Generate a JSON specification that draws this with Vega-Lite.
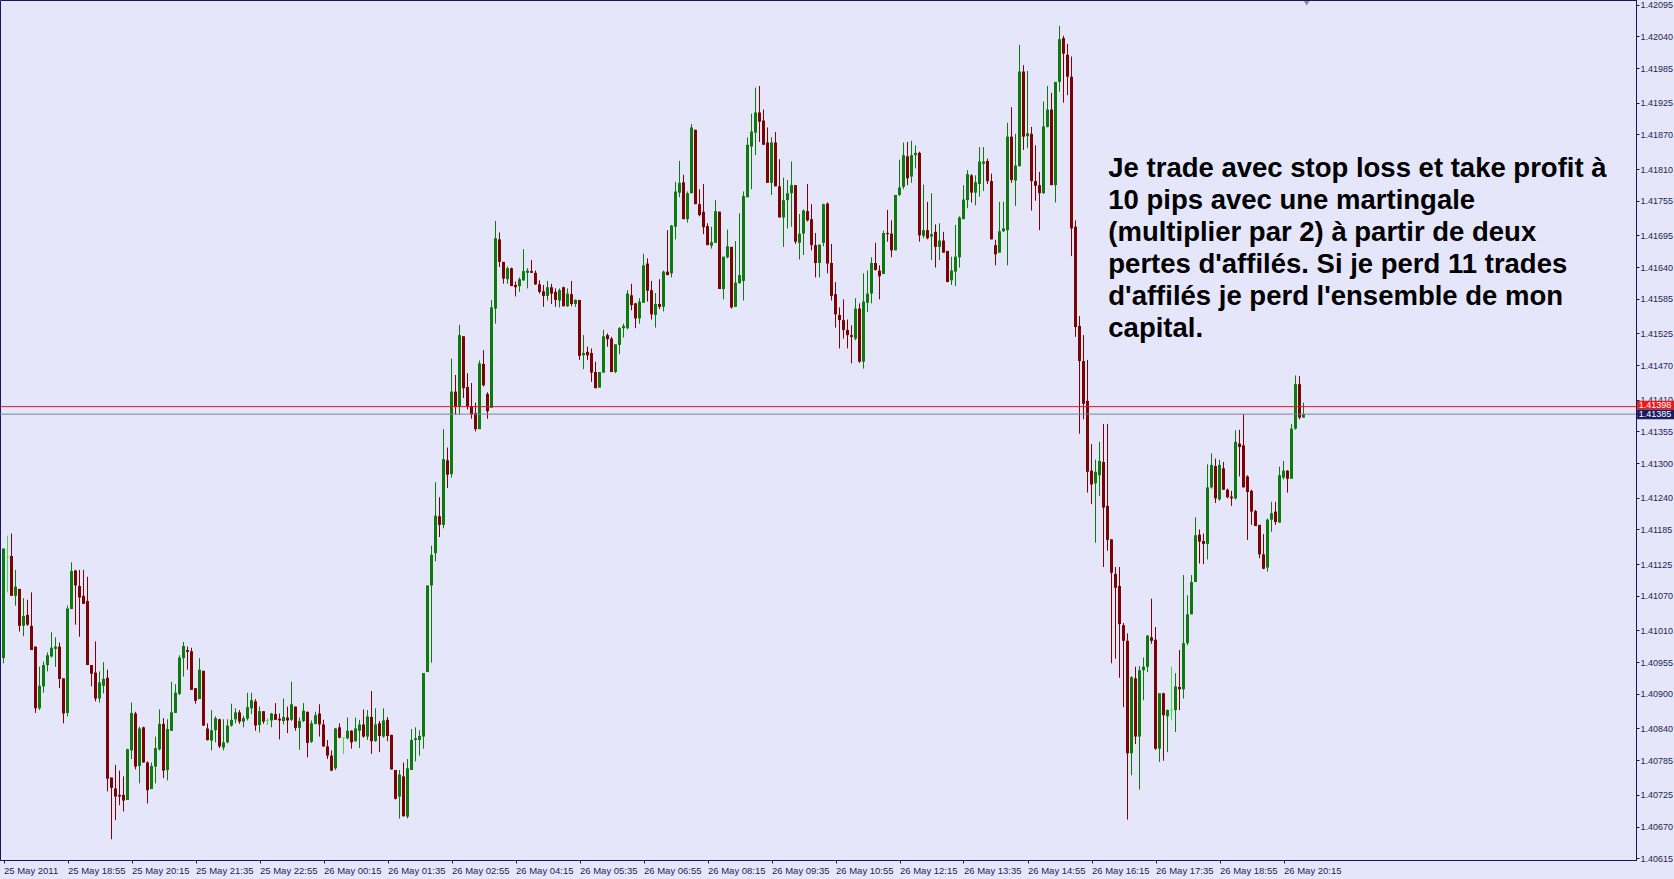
{
"$schema":"https://vega.github.io/schema/vega-lite/v6.json",
"width":1636,"height":860,
"autosize":{"type":"none"},
"padding":{"left":0,"top":0,"right":38,"bottom":19},
"background":"#e6e6fa",
"config":{"view":{"stroke":"#16165a","strokeWidth":1,"fill":"#e6e6fa"},
"scale":{"continuousPadding":0},
"axis":{"domainColor":"#16165a","tickColor":"#16165a","labelColor":"#1e1e50","labelFont":"Liberation Sans","labelFontSize":9.5,"grid":false,"tickSize":3,"labelOverlap":false,"labelSeparation":0,"labelBound":false,"labelFlush":false},
"axisY":{"labelOverlap":false,"labelFontSize":9,"labelPadding":1},
"axisQuantitative":{"labelOverlap":false},
"axisRight":{"labelOverlap":false}},
"data":{"values":[
{"t":"2011-05-25 17:35","o":1.40962,"h":1.41152,"l":1.40953,"c":1.41152},
{"t":"2011-05-25 17:40","o":1.41137,"h":1.41174,"l":1.41076,"c":1.41137},
{"t":"2011-05-25 17:45","o":1.41139,"h":1.41178,"l":1.41070,"c":1.41070},
{"t":"2011-05-25 17:50","o":1.41070,"h":1.41115,"l":1.41053,"c":1.41086},
{"t":"2011-05-25 17:55","o":1.41082,"h":1.41082,"l":1.41008,"c":1.41018},
{"t":"2011-05-25 18:00","o":1.41018,"h":1.41066,"l":1.41000,"c":1.41035},
{"t":"2011-05-25 18:05","o":1.41037,"h":1.41063,"l":1.41018,"c":1.41020},
{"t":"2011-05-25 18:10","o":1.41018,"h":1.41076,"l":1.40976,"c":1.40976},
{"t":"2011-05-25 18:15","o":1.40982,"h":1.40982,"l":1.40867,"c":1.40875},
{"t":"2011-05-25 18:20","o":1.40875,"h":1.40947,"l":1.40872,"c":1.40914},
{"t":"2011-05-25 18:25","o":1.40913,"h":1.40956,"l":1.40902,"c":1.40950},
{"t":"2011-05-25 18:30","o":1.40950,"h":1.40972,"l":1.40939,"c":1.40967},
{"t":"2011-05-25 18:35","o":1.40965,"h":1.41007,"l":1.40963,"c":1.40980},
{"t":"2011-05-25 18:40","o":1.40978,"h":1.40998,"l":1.40947,"c":1.40982},
{"t":"2011-05-25 18:45","o":1.40982,"h":1.40989,"l":1.40910,"c":1.40926},
{"t":"2011-05-25 18:50","o":1.40927,"h":1.40927,"l":1.40849,"c":1.40866},
{"t":"2011-05-25 18:55","o":1.40867,"h":1.41053,"l":1.40861,"c":1.41048},
{"t":"2011-05-25 19:00","o":1.41047,"h":1.41128,"l":1.41047,"c":1.41113},
{"t":"2011-05-25 19:05","o":1.41114,"h":1.41115,"l":1.41020,"c":1.41088},
{"t":"2011-05-25 19:10","o":1.41087,"h":1.41115,"l":1.40999,"c":1.41067},
{"t":"2011-05-25 19:15","o":1.41070,"h":1.41115,"l":1.41056,"c":1.41056},
{"t":"2011-05-25 19:20","o":1.41061,"h":1.41103,"l":1.40950,"c":1.40950},
{"t":"2011-05-25 19:25","o":1.40950,"h":1.40950,"l":1.40913,"c":1.40935},
{"t":"2011-05-25 19:30","o":1.40937,"h":1.40991,"l":1.40887,"c":1.40892},
{"t":"2011-05-25 19:35","o":1.40892,"h":1.40939,"l":1.40885,"c":1.40920},
{"t":"2011-05-25 19:40","o":1.40914,"h":1.40955,"l":1.40901,"c":1.40926},
{"t":"2011-05-25 19:45","o":1.40928,"h":1.40942,"l":1.40731,"c":1.40753},
{"t":"2011-05-25 19:50","o":1.40755,"h":1.40755,"l":1.40648,"c":1.40737},
{"t":"2011-05-25 19:55","o":1.40736,"h":1.40777,"l":1.40681,"c":1.40722},
{"t":"2011-05-25 20:00","o":1.40725,"h":1.40767,"l":1.40707,"c":1.40722},
{"t":"2011-05-25 20:05","o":1.40725,"h":1.40757,"l":1.40696,"c":1.40715},
{"t":"2011-05-25 20:10","o":1.40716,"h":1.40805,"l":1.40716,"c":1.40804},
{"t":"2011-05-25 20:15","o":1.40802,"h":1.40885,"l":1.40787,"c":1.40867},
{"t":"2011-05-25 20:20","o":1.40866,"h":1.40869,"l":1.40769,"c":1.40774},
{"t":"2011-05-25 20:25","o":1.40775,"h":1.40843,"l":1.40745,"c":1.40840},
{"t":"2011-05-25 20:30","o":1.40842,"h":1.40843,"l":1.40781,"c":1.40781},
{"t":"2011-05-25 20:35","o":1.40781,"h":1.40783,"l":1.40710,"c":1.40733},
{"t":"2011-05-25 20:40","o":1.40735,"h":1.40781,"l":1.40735,"c":1.40775},
{"t":"2011-05-25 20:45","o":1.40774,"h":1.40826,"l":1.40745,"c":1.40806},
{"t":"2011-05-25 20:50","o":1.40804,"h":1.40873,"l":1.40802,"c":1.40848},
{"t":"2011-05-25 20:55","o":1.40848,"h":1.40858,"l":1.40754,"c":1.40767},
{"t":"2011-05-25 21:00","o":1.40768,"h":1.40856,"l":1.40750,"c":1.40839},
{"t":"2011-05-25 21:05","o":1.40836,"h":1.40921,"l":1.40836,"c":1.40868},
{"t":"2011-05-25 21:10","o":1.40867,"h":1.40917,"l":1.40867,"c":1.40902},
{"t":"2011-05-25 21:15","o":1.40900,"h":1.40967,"l":1.40898,"c":1.40963},
{"t":"2011-05-25 21:20","o":1.40962,"h":1.40990,"l":1.40930,"c":1.40983},
{"t":"2011-05-25 21:25","o":1.40976,"h":1.40982,"l":1.40942,"c":1.40973},
{"t":"2011-05-25 21:30","o":1.40974,"h":1.40980,"l":1.40907,"c":1.40907},
{"t":"2011-05-25 21:35","o":1.40910,"h":1.40910,"l":1.40883,"c":1.40888},
{"t":"2011-05-25 21:40","o":1.40891,"h":1.40962,"l":1.40891,"c":1.40942},
{"t":"2011-05-25 21:45","o":1.40940,"h":1.40940,"l":1.40845,"c":1.40845},
{"t":"2011-05-25 21:50","o":1.40840,"h":1.40849,"l":1.40819,"c":1.40820},
{"t":"2011-05-25 21:55","o":1.40819,"h":1.40872,"l":1.40802,"c":1.40837},
{"t":"2011-05-25 22:00","o":1.40837,"h":1.40861,"l":1.40816,"c":1.40858},
{"t":"2011-05-25 22:05","o":1.40856,"h":1.40857,"l":1.40806,"c":1.40809},
{"t":"2011-05-25 22:10","o":1.40807,"h":1.40856,"l":1.40802,"c":1.40816},
{"t":"2011-05-25 22:15","o":1.40816,"h":1.40856,"l":1.40814,"c":1.40845},
{"t":"2011-05-25 22:20","o":1.40845,"h":1.40883,"l":1.40843,"c":1.40855},
{"t":"2011-05-25 22:25","o":1.40856,"h":1.40875,"l":1.40849,"c":1.40868},
{"t":"2011-05-25 22:30","o":1.40868,"h":1.40872,"l":1.40848,"c":1.40852},
{"t":"2011-05-25 22:35","o":1.40852,"h":1.40862,"l":1.40842,"c":1.40858},
{"t":"2011-05-25 22:40","o":1.40857,"h":1.40902,"l":1.40854,"c":1.40877},
{"t":"2011-05-25 22:45","o":1.40875,"h":1.40902,"l":1.40865,"c":1.40889},
{"t":"2011-05-25 22:50","o":1.40887,"h":1.40891,"l":1.40836,"c":1.40845},
{"t":"2011-05-25 22:55","o":1.40846,"h":1.40878,"l":1.40833,"c":1.40870},
{"t":"2011-05-25 23:00","o":1.40870,"h":1.40870,"l":1.40848,"c":1.40852},
{"t":"2011-05-25 23:05","o":1.40854,"h":1.40858,"l":1.40846,"c":1.40854},
{"t":"2011-05-25 23:10","o":1.40854,"h":1.40867,"l":1.40842,"c":1.40866},
{"t":"2011-05-25 23:15","o":1.40865,"h":1.40884,"l":1.40855,"c":1.40855},
{"t":"2011-05-25 23:20","o":1.40857,"h":1.40866,"l":1.40821,"c":1.40854},
{"t":"2011-05-25 23:25","o":1.40853,"h":1.40892,"l":1.40847,"c":1.40860},
{"t":"2011-05-25 23:30","o":1.40859,"h":1.40878,"l":1.40832,"c":1.40854},
{"t":"2011-05-25 23:35","o":1.40855,"h":1.40921,"l":1.40853,"c":1.40882},
{"t":"2011-05-25 23:40","o":1.40878,"h":1.40878,"l":1.40836,"c":1.40841},
{"t":"2011-05-25 23:45","o":1.40841,"h":1.40859,"l":1.40803,"c":1.40853},
{"t":"2011-05-25 23:50","o":1.40853,"h":1.40884,"l":1.40851,"c":1.40871},
{"t":"2011-05-25 23:55","o":1.40869,"h":1.40869,"l":1.40790,"c":1.40815},
{"t":"2011-05-26 00:00","o":1.40817,"h":1.40854,"l":1.40815,"c":1.40849},
{"t":"2011-05-26 00:05","o":1.40848,"h":1.40869,"l":1.40847,"c":1.40863},
{"t":"2011-05-26 00:10","o":1.40866,"h":1.40882,"l":1.40826,"c":1.40847},
{"t":"2011-05-26 00:15","o":1.40847,"h":1.40855,"l":1.40808,"c":1.40809},
{"t":"2011-05-26 00:20","o":1.40809,"h":1.40820,"l":1.40787,"c":1.40793},
{"t":"2011-05-26 00:25","o":1.40793,"h":1.40802,"l":1.40766,"c":1.40767},
{"t":"2011-05-26 00:30","o":1.40771,"h":1.40841,"l":1.40768,"c":1.40840},
{"t":"2011-05-26 00:35","o":1.40842,"h":1.40849,"l":1.40823,"c":1.40824},
{"t":"2011-05-26 00:40","o":1.40824,"h":1.40824,"l":1.40796,"c":1.40824},
{"t":"2011-05-26 00:45","o":1.40823,"h":1.40859,"l":1.40821,"c":1.40836},
{"t":"2011-05-26 00:50","o":1.40836,"h":1.40837,"l":1.40805,"c":1.40816},
{"t":"2011-05-26 00:55","o":1.40818,"h":1.40859,"l":1.40817,"c":1.40840},
{"t":"2011-05-26 01:00","o":1.40836,"h":1.40855,"l":1.40806,"c":1.40847},
{"t":"2011-05-26 01:05","o":1.40847,"h":1.40873,"l":1.40824,"c":1.40826},
{"t":"2011-05-26 01:10","o":1.40826,"h":1.40872,"l":1.40820,"c":1.40861},
{"t":"2011-05-26 01:15","o":1.40860,"h":1.40905,"l":1.40796,"c":1.40818},
{"t":"2011-05-26 01:20","o":1.40818,"h":1.40875,"l":1.40817,"c":1.40847},
{"t":"2011-05-26 01:25","o":1.40849,"h":1.40853,"l":1.40799,"c":1.40827},
{"t":"2011-05-26 01:30","o":1.40826,"h":1.40875,"l":1.40824,"c":1.40854},
{"t":"2011-05-26 01:35","o":1.40855,"h":1.40860,"l":1.40818,"c":1.40827},
{"t":"2011-05-26 01:40","o":1.40829,"h":1.40829,"l":1.40769,"c":1.40769},
{"t":"2011-05-26 01:45","o":1.40768,"h":1.40768,"l":1.40717,"c":1.40718},
{"t":"2011-05-26 01:50","o":1.40722,"h":1.40768,"l":1.40684,"c":1.40760},
{"t":"2011-05-26 01:55","o":1.40757,"h":1.40781,"l":1.40687,"c":1.40688},
{"t":"2011-05-26 02:00","o":1.40687,"h":1.40787,"l":1.40684,"c":1.40771},
{"t":"2011-05-26 02:05","o":1.40768,"h":1.40839,"l":1.40768,"c":1.40820},
{"t":"2011-05-26 02:10","o":1.40820,"h":1.40842,"l":1.40783,"c":1.40823},
{"t":"2011-05-26 02:15","o":1.40820,"h":1.40837,"l":1.40793,"c":1.40827},
{"t":"2011-05-26 02:20","o":1.40826,"h":1.40936,"l":1.40805,"c":1.40936},
{"t":"2011-05-26 02:25","o":1.40938,"h":1.41088,"l":1.40938,"c":1.41088},
{"t":"2011-05-26 02:30","o":1.41088,"h":1.41157,"l":1.40954,"c":1.41141},
{"t":"2011-05-26 02:35","o":1.41144,"h":1.41267,"l":1.41130,"c":1.41209},
{"t":"2011-05-26 02:40","o":1.41208,"h":1.41241,"l":1.41172,"c":1.41193},
{"t":"2011-05-26 02:45","o":1.41193,"h":1.41359,"l":1.41187,"c":1.41307},
{"t":"2011-05-26 02:50","o":1.41305,"h":1.41327,"l":1.41257,"c":1.41280},
{"t":"2011-05-26 02:55","o":1.41281,"h":1.41481,"l":1.41275,"c":1.41424},
{"t":"2011-05-26 03:00","o":1.41424,"h":1.41453,"l":1.41384,"c":1.41398},
{"t":"2011-05-26 03:05","o":1.41398,"h":1.41540,"l":1.41384,"c":1.41522},
{"t":"2011-05-26 03:10","o":1.41520,"h":1.41520,"l":1.41413,"c":1.41430},
{"t":"2011-05-26 03:15","o":1.41432,"h":1.41456,"l":1.41393,"c":1.41398},
{"t":"2011-05-26 03:20","o":1.41399,"h":1.41439,"l":1.41377,"c":1.41384},
{"t":"2011-05-26 03:25","o":1.41387,"h":1.41405,"l":1.41355,"c":1.41359},
{"t":"2011-05-26 03:30","o":1.41359,"h":1.41478,"l":1.41359,"c":1.41473},
{"t":"2011-05-26 03:35","o":1.41472,"h":1.41496,"l":1.41433,"c":1.41435},
{"t":"2011-05-26 03:40","o":1.41420,"h":1.41423,"l":1.41377,"c":1.41390},
{"t":"2011-05-26 03:45","o":1.41396,"h":1.41583,"l":1.41396,"c":1.41570},
{"t":"2011-05-26 03:50","o":1.41568,"h":1.41720,"l":1.41542,"c":1.41690},
{"t":"2011-05-26 03:55","o":1.41688,"h":1.41700,"l":1.41640,"c":1.41649},
{"t":"2011-05-26 04:00","o":1.41649,"h":1.41649,"l":1.41611,"c":1.41620},
{"t":"2011-05-26 04:05","o":1.41619,"h":1.41641,"l":1.41611,"c":1.41638},
{"t":"2011-05-26 04:10","o":1.41638,"h":1.41639,"l":1.41607,"c":1.41607},
{"t":"2011-05-26 04:15","o":1.41609,"h":1.41615,"l":1.41589,"c":1.41605},
{"t":"2011-05-26 04:20","o":1.41607,"h":1.41622,"l":1.41597,"c":1.41619},
{"t":"2011-05-26 04:25","o":1.41617,"h":1.41671,"l":1.41616,"c":1.41633},
{"t":"2011-05-26 04:30","o":1.41630,"h":1.41638,"l":1.41603,"c":1.41634},
{"t":"2011-05-26 04:35","o":1.41633,"h":1.41652,"l":1.41630,"c":1.41630},
{"t":"2011-05-26 04:40","o":1.41630,"h":1.41634,"l":1.41609,"c":1.41610},
{"t":"2011-05-26 04:45","o":1.41610,"h":1.41617,"l":1.41594,"c":1.41597},
{"t":"2011-05-26 04:50","o":1.41598,"h":1.41609,"l":1.41571,"c":1.41590},
{"t":"2011-05-26 04:55","o":1.41590,"h":1.41616,"l":1.41582,"c":1.41605},
{"t":"2011-05-26 05:00","o":1.41605,"h":1.41611,"l":1.41576,"c":1.41594},
{"t":"2011-05-26 05:05","o":1.41597,"h":1.41603,"l":1.41571,"c":1.41583},
{"t":"2011-05-26 05:10","o":1.41582,"h":1.41603,"l":1.41570,"c":1.41600},
{"t":"2011-05-26 05:15","o":1.41605,"h":1.41606,"l":1.41572,"c":1.41572},
{"t":"2011-05-26 05:20","o":1.41572,"h":1.41603,"l":1.41571,"c":1.41594},
{"t":"2011-05-26 05:25","o":1.41593,"h":1.41616,"l":1.41572,"c":1.41576},
{"t":"2011-05-26 05:30","o":1.41576,"h":1.41584,"l":1.41571,"c":1.41583},
{"t":"2011-05-26 05:35","o":1.41583,"h":1.41583,"l":1.41479,"c":1.41486},
{"t":"2011-05-26 05:40","o":1.41487,"h":1.41522,"l":1.41463,"c":1.41491},
{"t":"2011-05-26 05:45","o":1.41493,"h":1.41502,"l":1.41479,"c":1.41487},
{"t":"2011-05-26 05:50","o":1.41491,"h":1.41499,"l":1.41441,"c":1.41457},
{"t":"2011-05-26 05:55","o":1.41458,"h":1.41476,"l":1.41430,"c":1.41430},
{"t":"2011-05-26 06:00","o":1.41431,"h":1.41458,"l":1.41431,"c":1.41458},
{"t":"2011-05-26 06:05","o":1.41457,"h":1.41531,"l":1.41457,"c":1.41520},
{"t":"2011-05-26 06:10","o":1.41522,"h":1.41525,"l":1.41502,"c":1.41515},
{"t":"2011-05-26 06:15","o":1.41516,"h":1.41519,"l":1.41458,"c":1.41458},
{"t":"2011-05-26 06:20","o":1.41458,"h":1.41506,"l":1.41456,"c":1.41506},
{"t":"2011-05-26 06:25","o":1.41505,"h":1.41536,"l":1.41489,"c":1.41534},
{"t":"2011-05-26 06:30","o":1.41534,"h":1.41542,"l":1.41518,"c":1.41538},
{"t":"2011-05-26 06:35","o":1.41534,"h":1.41600,"l":1.41532,"c":1.41594},
{"t":"2011-05-26 06:40","o":1.41591,"h":1.41611,"l":1.41565,"c":1.41574},
{"t":"2011-05-26 06:45","o":1.41577,"h":1.41578,"l":1.41534,"c":1.41551},
{"t":"2011-05-26 06:50","o":1.41551,"h":1.41586,"l":1.41542,"c":1.41580},
{"t":"2011-05-26 06:55","o":1.41578,"h":1.41663,"l":1.41578,"c":1.41643},
{"t":"2011-05-26 07:00","o":1.41646,"h":1.41655,"l":1.41580,"c":1.41599},
{"t":"2011-05-26 07:05","o":1.41600,"h":1.41616,"l":1.41549,"c":1.41558},
{"t":"2011-05-26 07:10","o":1.41557,"h":1.41595,"l":1.41535,"c":1.41576},
{"t":"2011-05-26 07:15","o":1.41576,"h":1.41619,"l":1.41567,"c":1.41571},
{"t":"2011-05-26 07:20","o":1.41571,"h":1.41634,"l":1.41563,"c":1.41632},
{"t":"2011-05-26 07:25","o":1.41632,"h":1.41704,"l":1.41626,"c":1.41626},
{"t":"2011-05-26 07:30","o":1.41629,"h":1.41713,"l":1.41622,"c":1.41712},
{"t":"2011-05-26 07:35","o":1.41710,"h":1.41788,"l":1.41688,"c":1.41771},
{"t":"2011-05-26 07:40","o":1.41769,"h":1.41824,"l":1.41761,"c":1.41786},
{"t":"2011-05-26 07:45","o":1.41787,"h":1.41800,"l":1.41723,"c":1.41723},
{"t":"2011-05-26 07:50","o":1.41723,"h":1.41771,"l":1.41717,"c":1.41768},
{"t":"2011-05-26 07:55","o":1.41768,"h":1.41888,"l":1.41768,"c":1.41882},
{"t":"2011-05-26 08:00","o":1.41878,"h":1.41878,"l":1.41749,"c":1.41749},
{"t":"2011-05-26 08:05","o":1.41749,"h":1.41775,"l":1.41728,"c":1.41730},
{"t":"2011-05-26 08:10","o":1.41736,"h":1.41784,"l":1.41697,"c":1.41709},
{"t":"2011-05-26 08:15","o":1.41711,"h":1.41716,"l":1.41678,"c":1.41678},
{"t":"2011-05-26 08:20","o":1.41677,"h":1.41710,"l":1.41672,"c":1.41683},
{"t":"2011-05-26 08:25","o":1.41682,"h":1.41756,"l":1.41682,"c":1.41737},
{"t":"2011-05-26 08:30","o":1.41736,"h":1.41736,"l":1.41602,"c":1.41602},
{"t":"2011-05-26 08:35","o":1.41602,"h":1.41658,"l":1.41584,"c":1.41658},
{"t":"2011-05-26 08:40","o":1.41657,"h":1.41705,"l":1.41655,"c":1.41676},
{"t":"2011-05-26 08:45","o":1.41675,"h":1.41675,"l":1.41568,"c":1.41570},
{"t":"2011-05-26 08:50","o":1.41571,"h":1.41685,"l":1.41571,"c":1.41613},
{"t":"2011-05-26 08:55","o":1.41612,"h":1.41733,"l":1.41611,"c":1.41626},
{"t":"2011-05-26 09:00","o":1.41616,"h":1.41771,"l":1.41582,"c":1.41763},
{"t":"2011-05-26 09:05","o":1.41761,"h":1.41865,"l":1.41761,"c":1.41852},
{"t":"2011-05-26 09:10","o":1.41849,"h":1.41906,"l":1.41775,"c":1.41875},
{"t":"2011-05-26 09:15","o":1.41873,"h":1.41951,"l":1.41834,"c":1.41908},
{"t":"2011-05-26 09:20","o":1.41908,"h":1.41954,"l":1.41857,"c":1.41892},
{"t":"2011-05-26 09:25","o":1.41894,"h":1.41913,"l":1.41852,"c":1.41852},
{"t":"2011-05-26 09:30","o":1.41856,"h":1.41882,"l":1.41786,"c":1.41786},
{"t":"2011-05-26 09:35","o":1.41786,"h":1.41865,"l":1.41765,"c":1.41856},
{"t":"2011-05-26 09:40","o":1.41856,"h":1.41874,"l":1.41780,"c":1.41780},
{"t":"2011-05-26 09:45","o":1.41780,"h":1.41827,"l":1.41726,"c":1.41726},
{"t":"2011-05-26 09:50","o":1.41726,"h":1.41795,"l":1.41675,"c":1.41756},
{"t":"2011-05-26 09:55","o":1.41756,"h":1.41791,"l":1.41707,"c":1.41768},
{"t":"2011-05-26 10:00","o":1.41768,"h":1.41823,"l":1.41710,"c":1.41782},
{"t":"2011-05-26 10:05","o":1.41782,"h":1.41782,"l":1.41680,"c":1.41684},
{"t":"2011-05-26 10:10","o":1.41682,"h":1.41732,"l":1.41653,"c":1.41698},
{"t":"2011-05-26 10:15","o":1.41698,"h":1.41740,"l":1.41661,"c":1.41738},
{"t":"2011-05-26 10:20","o":1.41737,"h":1.41784,"l":1.41719,"c":1.41721},
{"t":"2011-05-26 10:25","o":1.41723,"h":1.41749,"l":1.41669,"c":1.41678},
{"t":"2011-05-26 10:30","o":1.41678,"h":1.41699,"l":1.41622,"c":1.41647},
{"t":"2011-05-26 10:35","o":1.41647,"h":1.41679,"l":1.41622,"c":1.41679},
{"t":"2011-05-26 10:40","o":1.41682,"h":1.41750,"l":1.41676,"c":1.41749},
{"t":"2011-05-26 10:45","o":1.41750,"h":1.41752,"l":1.41629,"c":1.41646},
{"t":"2011-05-26 10:50","o":1.41647,"h":1.41680,"l":1.41582,"c":1.41590},
{"t":"2011-05-26 10:55","o":1.41593,"h":1.41614,"l":1.41535,"c":1.41558},
{"t":"2011-05-26 11:00","o":1.41557,"h":1.41570,"l":1.41499,"c":1.41548},
{"t":"2011-05-26 11:05","o":1.41548,"h":1.41584,"l":1.41516,"c":1.41531},
{"t":"2011-05-26 11:10","o":1.41531,"h":1.41549,"l":1.41499,"c":1.41522},
{"t":"2011-05-26 11:15","o":1.41522,"h":1.41539,"l":1.41473,"c":1.41519},
{"t":"2011-05-26 11:20","o":1.41516,"h":1.41586,"l":1.41513,"c":1.41568},
{"t":"2011-05-26 11:25","o":1.41568,"h":1.41577,"l":1.41474,"c":1.41476},
{"t":"2011-05-26 11:30","o":1.41476,"h":1.41629,"l":1.41464,"c":1.41580},
{"t":"2011-05-26 11:35","o":1.41578,"h":1.41634,"l":1.41562,"c":1.41594},
{"t":"2011-05-26 11:40","o":1.41594,"h":1.41657,"l":1.41577,"c":1.41647},
{"t":"2011-05-26 11:45","o":1.41647,"h":1.41682,"l":1.41634,"c":1.41635},
{"t":"2011-05-26 11:50","o":1.41634,"h":1.41643,"l":1.41584,"c":1.41624},
{"t":"2011-05-26 11:55","o":1.41628,"h":1.41703,"l":1.41628,"c":1.41699},
{"t":"2011-05-26 12:00","o":1.41699,"h":1.41739,"l":1.41684,"c":1.41697},
{"t":"2011-05-26 12:05","o":1.41698,"h":1.41721,"l":1.41657,"c":1.41669},
{"t":"2011-05-26 12:10","o":1.41669,"h":1.41765,"l":1.41669,"c":1.41765},
{"t":"2011-05-26 12:15","o":1.41765,"h":1.41826,"l":1.41763,"c":1.41778},
{"t":"2011-05-26 12:20","o":1.41779,"h":1.41856,"l":1.41775,"c":1.41834},
{"t":"2011-05-26 12:25","o":1.41832,"h":1.41857,"l":1.41782,"c":1.41794},
{"t":"2011-05-26 12:30","o":1.41797,"h":1.41859,"l":1.41786,"c":1.41834},
{"t":"2011-05-26 12:35","o":1.41834,"h":1.41851,"l":1.41811,"c":1.41838},
{"t":"2011-05-26 12:40","o":1.41838,"h":1.41840,"l":1.41684,"c":1.41695},
{"t":"2011-05-26 12:45","o":1.41694,"h":1.41783,"l":1.41690,"c":1.41704},
{"t":"2011-05-26 12:50","o":1.41704,"h":1.41753,"l":1.41688,"c":1.41690},
{"t":"2011-05-26 12:55","o":1.41693,"h":1.41768,"l":1.41652,"c":1.41697},
{"t":"2011-05-26 13:00","o":1.41701,"h":1.41714,"l":1.41639,"c":1.41675},
{"t":"2011-05-26 13:05","o":1.41675,"h":1.41716,"l":1.41652,"c":1.41686},
{"t":"2011-05-26 13:10","o":1.41686,"h":1.41701,"l":1.41665,"c":1.41665},
{"t":"2011-05-26 13:15","o":1.41668,"h":1.41668,"l":1.41614,"c":1.41614},
{"t":"2011-05-26 13:20","o":1.41617,"h":1.41658,"l":1.41609,"c":1.41634},
{"t":"2011-05-26 13:25","o":1.41632,"h":1.41713,"l":1.41607,"c":1.41658},
{"t":"2011-05-26 13:30","o":1.41657,"h":1.41728,"l":1.41639,"c":1.41726},
{"t":"2011-05-26 13:35","o":1.41723,"h":1.41782,"l":1.41723,"c":1.41757},
{"t":"2011-05-26 13:40","o":1.41756,"h":1.41808,"l":1.41742,"c":1.41801},
{"t":"2011-05-26 13:45","o":1.41799,"h":1.41801,"l":1.41752,"c":1.41769},
{"t":"2011-05-26 13:50","o":1.41769,"h":1.41799,"l":1.41747,"c":1.41787},
{"t":"2011-05-26 13:55","o":1.41784,"h":1.41848,"l":1.41762,"c":1.41823},
{"t":"2011-05-26 14:00","o":1.41819,"h":1.41848,"l":1.41772,"c":1.41823},
{"t":"2011-05-26 14:05","o":1.41824,"h":1.41828,"l":1.41784,"c":1.41789},
{"t":"2011-05-26 14:10","o":1.41789,"h":1.41802,"l":1.41688,"c":1.41688},
{"t":"2011-05-26 14:15","o":1.41678,"h":1.41687,"l":1.41643,"c":1.41662},
{"t":"2011-05-26 14:20","o":1.41665,"h":1.41753,"l":1.41665,"c":1.41702},
{"t":"2011-05-26 14:25","o":1.41702,"h":1.41753,"l":1.41701,"c":1.41707},
{"t":"2011-05-26 14:30","o":1.41704,"h":1.41890,"l":1.41643,"c":1.41866},
{"t":"2011-05-26 14:35","o":1.41866,"h":1.41917,"l":1.41786,"c":1.41791},
{"t":"2011-05-26 14:40","o":1.41790,"h":1.41871,"l":1.41746,"c":1.41816},
{"t":"2011-05-26 14:45","o":1.41815,"h":1.42025,"l":1.41814,"c":1.41979},
{"t":"2011-05-26 14:50","o":1.41979,"h":1.41990,"l":1.41843,"c":1.41866},
{"t":"2011-05-26 14:55","o":1.41867,"h":1.41980,"l":1.41846,"c":1.41872},
{"t":"2011-05-26 15:00","o":1.41871,"h":1.41883,"l":1.41738,"c":1.41789},
{"t":"2011-05-26 15:05","o":1.41789,"h":1.41851,"l":1.41755,"c":1.41781},
{"t":"2011-05-26 15:10","o":1.41782,"h":1.41805,"l":1.41704,"c":1.41768},
{"t":"2011-05-26 15:15","o":1.41768,"h":1.41927,"l":1.41767,"c":1.41884},
{"t":"2011-05-26 15:20","o":1.41883,"h":1.41954,"l":1.41882,"c":1.41913},
{"t":"2011-05-26 15:25","o":1.41913,"h":1.41942,"l":1.41782,"c":1.41782},
{"t":"2011-05-26 15:30","o":1.41782,"h":1.41961,"l":1.41752,"c":1.41961},
{"t":"2011-05-26 15:35","o":1.41961,"h":1.42058,"l":1.41944,"c":1.42035},
{"t":"2011-05-26 15:40","o":1.42037,"h":1.42041,"l":1.41925,"c":1.42010},
{"t":"2011-05-26 15:45","o":1.42008,"h":1.42027,"l":1.41938,"c":1.41970},
{"t":"2011-05-26 15:50","o":1.41970,"h":1.42005,"l":1.41659,"c":1.41707},
{"t":"2011-05-26 15:55","o":1.41710,"h":1.41721,"l":1.41519,"c":1.41536},
{"t":"2011-05-26 16:00","o":1.41538,"h":1.41555,"l":1.41351,"c":1.41477},
{"t":"2011-05-26 16:05","o":1.41477,"h":1.41522,"l":1.41376,"c":1.41403},
{"t":"2011-05-26 16:10","o":1.41408,"h":1.41479,"l":1.41249,"c":1.41285},
{"t":"2011-05-26 16:15","o":1.41287,"h":1.41333,"l":1.41229,"c":1.41263},
{"t":"2011-05-26 16:20","o":1.41265,"h":1.41306,"l":1.41162,"c":1.41285},
{"t":"2011-05-26 16:25","o":1.41279,"h":1.41337,"l":1.41243,"c":1.41304},
{"t":"2011-05-26 16:30","o":1.41302,"h":1.41368,"l":1.41120,"c":1.41223},
{"t":"2011-05-26 16:35","o":1.41226,"h":1.41368,"l":1.41148,"c":1.41167},
{"t":"2011-05-26 16:40","o":1.41168,"h":1.41168,"l":1.40953,"c":1.41110},
{"t":"2011-05-26 16:45","o":1.41108,"h":1.41120,"l":1.40961,"c":1.41084},
{"t":"2011-05-26 16:50","o":1.41087,"h":1.41120,"l":1.40928,"c":1.41021},
{"t":"2011-05-26 16:55","o":1.41019,"h":1.41023,"l":1.40877,"c":1.40992},
{"t":"2011-05-26 17:00","o":1.40992,"h":1.41005,"l":1.40682,"c":1.40797},
{"t":"2011-05-26 17:05","o":1.40797,"h":1.40931,"l":1.40759,"c":1.40929},
{"t":"2011-05-26 17:10","o":1.40927,"h":1.40947,"l":1.40813,"c":1.40826},
{"t":"2011-05-26 17:15","o":1.40826,"h":1.40948,"l":1.40734,"c":1.40941},
{"t":"2011-05-26 17:20","o":1.40941,"h":1.40963,"l":1.40889,"c":1.40947},
{"t":"2011-05-26 17:25","o":1.40947,"h":1.41002,"l":1.40938,"c":1.41001},
{"t":"2011-05-26 17:30","o":1.40998,"h":1.41065,"l":1.40987,"c":1.40992},
{"t":"2011-05-26 17:35","o":1.40994,"h":1.41016,"l":1.40803,"c":1.40805},
{"t":"2011-05-26 17:40","o":1.40805,"h":1.40901,"l":1.40782,"c":1.40901},
{"t":"2011-05-26 17:45","o":1.40901,"h":1.40902,"l":1.40784,"c":1.40863},
{"t":"2011-05-26 17:50","o":1.40861,"h":1.40873,"l":1.40799,"c":1.40872},
{"t":"2011-05-26 17:55","o":1.40872,"h":1.40947,"l":1.40854,"c":1.40872},
{"t":"2011-05-26 18:00","o":1.40872,"h":1.40936,"l":1.40834,"c":1.40913},
{"t":"2011-05-26 18:05","o":1.40912,"h":1.40976,"l":1.40872,"c":1.40908},
{"t":"2011-05-26 18:10","o":1.40908,"h":1.41106,"l":1.40892,"c":1.40988},
{"t":"2011-05-26 18:15","o":1.40988,"h":1.41071,"l":1.40984,"c":1.41038},
{"t":"2011-05-26 18:20","o":1.41038,"h":1.41106,"l":1.41038,"c":1.41094},
{"t":"2011-05-26 18:25","o":1.41094,"h":1.41206,"l":1.41094,"c":1.41175},
{"t":"2011-05-26 18:30","o":1.41176,"h":1.41185,"l":1.41126,"c":1.41164},
{"t":"2011-05-26 18:35","o":1.41165,"h":1.41178,"l":1.41125,"c":1.41160},
{"t":"2011-05-26 18:40","o":1.41160,"h":1.41298,"l":1.41133,"c":1.41258},
{"t":"2011-05-26 18:45","o":1.41258,"h":1.41317,"l":1.41256,"c":1.41297},
{"t":"2011-05-26 18:50","o":1.41295,"h":1.41308,"l":1.41231,"c":1.41239},
{"t":"2011-05-26 18:55","o":1.41237,"h":1.41306,"l":1.41235,"c":1.41297},
{"t":"2011-05-26 19:00","o":1.41291,"h":1.41302,"l":1.41254,"c":1.41254},
{"t":"2011-05-26 19:05","o":1.41254,"h":1.41256,"l":1.41239,"c":1.41241},
{"t":"2011-05-26 19:10","o":1.41242,"h":1.41252,"l":1.41226,"c":1.41239},
{"t":"2011-05-26 19:15","o":1.41239,"h":1.41357,"l":1.41237,"c":1.41337},
{"t":"2011-05-26 19:20","o":1.41334,"h":1.41358,"l":1.41277,"c":1.41328},
{"t":"2011-05-26 19:25","o":1.41331,"h":1.41385,"l":1.41258,"c":1.41258},
{"t":"2011-05-26 19:30","o":1.41277,"h":1.41279,"l":1.41167,"c":1.41250},
{"t":"2011-05-26 19:35","o":1.41252,"h":1.41254,"l":1.41193,"c":1.41216},
{"t":"2011-05-26 19:40","o":1.41217,"h":1.41219,"l":1.41191,"c":1.41191},
{"t":"2011-05-26 19:45","o":1.41193,"h":1.41193,"l":1.41135,"c":1.41142},
{"t":"2011-05-26 19:50","o":1.41142,"h":1.41177,"l":1.41116,"c":1.41117},
{"t":"2011-05-26 19:55","o":1.41119,"h":1.41204,"l":1.41112,"c":1.41202},
{"t":"2011-05-26 20:00","o":1.41202,"h":1.41233,"l":1.41181,"c":1.41213},
{"t":"2011-05-26 20:05","o":1.41216,"h":1.41233,"l":1.41193,"c":1.41198},
{"t":"2011-05-26 20:10","o":1.41197,"h":1.41294,"l":1.41197,"c":1.41279},
{"t":"2011-05-26 20:15","o":1.41275,"h":1.41304,"l":1.41272,"c":1.41287},
{"t":"2011-05-26 20:20","o":1.41287,"h":1.41288,"l":1.41249,"c":1.41273},
{"t":"2011-05-26 20:25","o":1.41273,"h":1.41368,"l":1.41273,"c":1.41360},
{"t":"2011-05-26 20:30","o":1.41360,"h":1.41452,"l":1.41358,"c":1.41437},
{"t":"2011-05-26 20:35","o":1.41437,"h":1.41451,"l":1.41376,"c":1.41379},
{"t":"2011-05-26 20:40","o":1.41379,"h":1.41405,"l":1.41379,"c":1.41385}
]},
"layer":[
{"mark":{"type":"rule","strokeWidth":1},
 "encoding":{
  "x":{"field":"t","type":"temporal","title":null,
   "scale":{"padding":0,"domain":[{"year":2011,"month":5,"date":25,"hours":17,"minutes":30,"seconds":37,"milliseconds":500},{"year":2011,"month":5,"date":27,"hours":3,"minutes":35,"seconds":37,"milliseconds":500}]},
   "axis":{"orient":"bottom","format":"%d %b %H:%M","labelAlign":"left","labelBaseline":"top","labelPadding":2,"labelOverlap":false,
    "labelExpr":"datum.index == 0 ? '25 May 2011' : datum.label",
    "values":[
     {"year":2011,"month":5,"date":25,"hours":17,"minutes":35},
     {"year":2011,"month":5,"date":25,"hours":18,"minutes":55},
     {"year":2011,"month":5,"date":25,"hours":20,"minutes":15},
     {"year":2011,"month":5,"date":25,"hours":21,"minutes":35},
     {"year":2011,"month":5,"date":25,"hours":22,"minutes":55},
     {"year":2011,"month":5,"date":26,"hours":0,"minutes":15},
     {"year":2011,"month":5,"date":26,"hours":1,"minutes":35},
     {"year":2011,"month":5,"date":26,"hours":2,"minutes":55},
     {"year":2011,"month":5,"date":26,"hours":4,"minutes":15},
     {"year":2011,"month":5,"date":26,"hours":5,"minutes":35},
     {"year":2011,"month":5,"date":26,"hours":6,"minutes":55},
     {"year":2011,"month":5,"date":26,"hours":8,"minutes":15},
     {"year":2011,"month":5,"date":26,"hours":9,"minutes":35},
     {"year":2011,"month":5,"date":26,"hours":10,"minutes":55},
     {"year":2011,"month":5,"date":26,"hours":12,"minutes":15},
     {"year":2011,"month":5,"date":26,"hours":13,"minutes":35},
     {"year":2011,"month":5,"date":26,"hours":14,"minutes":55},
     {"year":2011,"month":5,"date":26,"hours":16,"minutes":15},
     {"year":2011,"month":5,"date":26,"hours":17,"minutes":35},
     {"year":2011,"month":5,"date":26,"hours":18,"minutes":55},
     {"year":2011,"month":5,"date":26,"hours":20,"minutes":15}]}},
  "y":{"field":"l","type":"quantitative","title":null,
   "scale":{"domain":[1.40612,1.42103],"zero":false,"nice":false,"padding":0},
   "axis":{"orient":"right","format":".5f","labelAlign":"left","labelBaseline":"middle","labelPadding":1,"labelFontSize":9,"labelOverlap":false,"labelSeparation":0,"tickCount":27,
    "values":[1.42095,1.4204,1.41985,1.41925,1.4187,1.4181,1.41755,1.41695,1.4164,1.41585,1.41525,1.4147,1.4141,1.41355,1.413,1.4124,1.41185,1.41125,1.4107,1.4101,1.40955,1.409,1.4084,1.40785,1.40725,1.4067,1.40615]}},
  "y2":{"field":"h"},
  "color":{"condition":[{"test":"datum.c > datum.o","value":"#0e7a0e"},{"test":"datum.c < datum.o","value":"#7d0303"}],"value":"#3fdc3f"}}},
{"mark":{"type":"bar","width":3,"orient":"vertical"},
 "encoding":{
  "x":{"field":"t","type":"temporal","title":null},
  "y":{"field":"o","type":"quantitative","title":null,"axis":{"labelOverlap":false}},
  "y2":{"field":"c"},
  "color":{"condition":[{"test":"datum.c > datum.o","value":"#0e7a0e"},{"test":"datum.c < datum.o","value":"#7d0303"}],"value":"#3fdc3f"}}},
{"transform":[{"filter":"datum.o == datum.c"}],
 "mark":{"type":"tick","orient":"horizontal","size":3,"thickness":1,"color":"#3fdc3f"},
 "encoding":{"x":{"field":"t","type":"temporal","title":null},"y":{"field":"o","type":"quantitative","title":null,"axis":{"labelOverlap":false}}}},
{"data":{"values":[{"line":"Ask","price":1.41398},{"line":"Bid","price":1.41385}]},
 "mark":{"type":"rule","strokeWidth":1},
 "encoding":{"y":{"field":"price","type":"quantitative","title":null,"axis":{"labelOverlap":false}},
  "color":{"field":"line","type":"nominal","scale":{"domain":["Ask","Bid"],"range":["#e3161c","#7c8598"]},"legend":null}}},
{"data":{"values":[{"line":"Ask"}]},
 "mark":{"type":"rect","color":"#f01818"},
 "encoding":{"x":{"datum":{"year":2011,"month":5,"date":27,"hours":3,"minutes":37},"type":"temporal"},
  "x2":{"datum":{"year":2011,"month":5,"date":27,"hours":4,"minutes":25}},
  "y":{"datum":1.41408,"type":"quantitative"},"y2":{"datum":1.41393}}},
{"data":{"values":[{"line":"Bid"}]},
 "mark":{"type":"rect","color":"#1b1b62"},
 "encoding":{"x":{"datum":{"year":2011,"month":5,"date":27,"hours":3,"minutes":37},"type":"temporal"},
  "x2":{"datum":{"year":2011,"month":5,"date":27,"hours":4,"minutes":25}},
  "y":{"datum":1.41393,"type":"quantitative"},"y2":{"datum":1.41376}}},
{"data":{"values":[{"label":"1.41398","p":1.41401},{"label":"1.41385","p":1.41385}]},
 "mark":{"type":"text","color":"white","font":"Liberation Sans","fontSize":9,"align":"left","baseline":"middle"},
 "encoding":{"x":{"datum":{"year":2011,"month":5,"date":27,"hours":3,"minutes":39},"type":"temporal"},
  "y":{"field":"p","type":"quantitative"},"text":{"field":"label"}}},
{"data":{"values":[{"note":"Je trade avec stop loss et take profit à\n10 pips avec une martingale\n(multiplier par 2) à partir de deux\npertes d'affilés. Si je perd 11 trades\nd'affilés je perd l'ensemble de mon\ncapital."}]},
 "mark":{"type":"text","font":"Liberation Sans","fontWeight":"bold","fontSize":27.5,"color":"#000000","align":"left","baseline":"alphabetic","lineBreak":"\n","lineHeight":32},
 "encoding":{"x":{"datum":{"year":2011,"month":5,"date":26,"hours":16,"minutes":36},"type":"temporal"},
  "y":{"datum":1.41796,"type":"quantitative"},"text":{"field":"note"}}},
{"data":{"values":[{"marker":"shift"}]},
 "mark":{"type":"point","shape":"triangle-down","filled":true,"color":"#8c8ca0","size":30,"opacity":1},
 "encoding":{"x":{"datum":{"year":2011,"month":5,"date":26,"hours":20,"minutes":44},"type":"temporal"},
  "y":{"datum":1.42097,"type":"quantitative"}}}
]
}
